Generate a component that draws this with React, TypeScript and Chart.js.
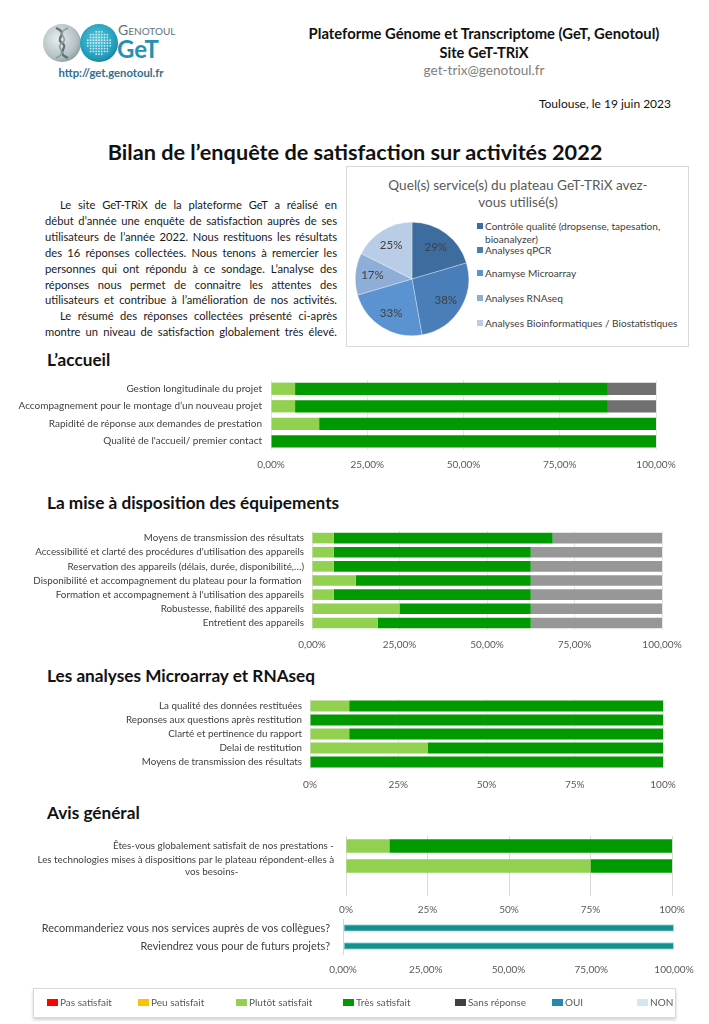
import React, { useEffect, useRef } from "react";
import { Chart, registerables } from "chart.js";

Chart.register(...registerables);

const FONT = 'Lato, "Open Sans", "Noto Sans", sans-serif';

// ---------- DATA ----------
const serviceLabels = [
  "Contrôle qualité (dropsense, tapesation, bioanalyzer)",
  "Analyses qPCR",
  "Anamyse Microarray",
  "Analyses RNAseq",
  "Analyses Bioinformatiques / Biostatistiques",
];
const serviceValues = [29, 38, 33, 17, 25];
const serviceColors = ["#3d6c9e", "#4a7eb8", "#5a93d0", "#8eaed8", "#bacde7"];

const accueilLabels = [
  "Gestion longitudinale du projet",
  "Accompagnement pour le montage d’un nouveau projet",
  "Rapidité de réponse aux demandes de prestation",
  "Qualité de l'accueil/ premier contact",
];
const accueilPlutot = [6.25, 6.25, 12.5, 0];
const accueilTres = [81.25, 81.25, 87.5, 100];
const accueilSans = [12.5, 12.5, 0, 0];

const equipLabels = [
  "Moyens de transmission des résultats",
  "Accessibilité et clarté des procédures d'utilisation des appareils",
  "Reservation des appareils (délais, durée, disponibilité,…)",
  "Disponibilité et accompagnement du plateau pour la formation ",
  "Formation et accompagnement à l'utilisation des appareils",
  "Robustesse, fiabilité des appareils",
  "Entretient des appareils",
];
const equipPlutot = [6.25, 6.25, 6.25, 12.5, 6.25, 25, 18.75];
const equipTres = [62.5, 56.25, 56.25, 50, 56.25, 37.5, 43.75];
const equipSans = [31.25, 37.5, 37.5, 37.5, 37.5, 37.5, 37.5];

const microLabels = [
  "La qualité des données restituées",
  "Reponses aux questions après restitution",
  "Clarté et pertinence du rapport",
  "Delai de restitution",
  "Moyens de transmission des résultats",
];
const microPlutot = [11.1, 0, 11.1, 33.3, 0];
const microTres = [88.9, 100, 88.9, 66.7, 100];

const avisLabels: (string | string[])[] = [
  "Êtes-vous globalement satisfait de nos prestations -",
  [
    "Les technologies mises à dispositions par le plateau répondent-elles à",
    "vos besoins-\u2003\u2003\u2003\u2003\u2003\u2003\u2003\u2003\u2003\u2003\u2003\u2003\u2003",
  ],
  "",
];
const avisPlutot = [13.3, 75, null];
const avisTres = [86.7, 25, null];

const ouiLabels = [
  "Recommanderiez vous nos services auprès de vos collègues?",
  "Reviendrez vous pour de futurs projets?",
];
const ouiValues = [100, 100];

const xTickValues = [0, 25, 50, 75, 100];

const legendLabels = [
  "Pas satisfait",
  "Peu satisfait",
  "Plutôt satisfait",
  "Très satisfait",
  "Sans réponse",
  "OUI",
  "NON",
];
const legendColors = ["#ff0000", "#ffc000", "#92d050", "#009900", "#404040", "#2389b0", "#cfe9ef"];

const C_PLUTOT = "#92d050";
const C_TRES = "#009a00";

const paragraphLines = [
  { t: "Le site GeT-TRiX de la plateforme GeT a réalisé en", indent: true },
  { t: "début d’année une enquête de satisfaction auprès de ses", indent: false },
  { t: "utilisateurs de l’année 2022. Nous restituons les résultats", indent: false },
  { t: "des 16 réponses collectées. Nous tenons à remercier les", indent: false },
  { t: "personnes qui ont répondu à ce sondage. L’analyse des", indent: false },
  { t: "réponses nous permet de connaitre les attentes des", indent: false },
  { t: "utilisateurs et contribue à l’amélioration de nos activités.", indent: false },
  { t: "Le résumé des réponses collectées présenté ci-après", indent: true },
  { t: "montre un niveau de satisfaction globalement très élevé.", indent: false },
];

// ---------- helpers ----------
function T(props: any) {
  const { x, y, w = 400, align = "left", size, weight = 400, color = "#000", children, style } = props;
  const lh = Math.round(size * 1.3);
  const left = align === "left" ? x : align === "center" ? x - w / 2 : x - w;
  return (
    <div
      style={{
        position: "absolute",
        left,
        top: y - lh / 2,
        width: w,
        fontSize: size,
        lineHeight: lh + "px",
        fontWeight: weight,
        color,
        textAlign: align,
        whiteSpace: "nowrap",
        ...style,
      }}
    >
      {children}
    </div>
  );
}

type DS = { label: string; data: (number | null)[]; color: string; border?: string };

function BarChart(props: {
  left: number;
  top: number;
  plotRight: number;
  axisWidth: number;
  padTop: number;
  band: number;
  axisHeight: number;
  labels: (string | string[])[];
  datasets: DS[];
  labelFont: number;
  labelPad: number;
  tickFont: number;
  tickPad: number;
  barPct: number;
  decimals: number;
  gridColor: string;
  zeroOnlyGrid?: boolean;
}) {
  const ref = useRef<HTMLCanvasElement>(null);
  const padRight = 28;
  const width = props.plotRight - props.left + padRight;
  const height = props.padTop + props.band * props.labels.length + props.axisHeight;
  useEffect(() => {
    if (!ref.current) return;
    const fmt = (v: number) =>
      props.decimals > 0 ? v.toFixed(props.decimals).replace(".", ",") + "%" : v + "%";
    const chart = new Chart(ref.current, {
      type: "bar",
      data: {
        labels: props.labels as any,
        datasets: props.datasets.map((d) => ({
          label: d.label,
          data: d.data as any,
          backgroundColor: d.color,
          borderColor: d.border || d.color,
          borderWidth: d.border ? 1 : 0,
          borderSkipped: false,
          barPercentage: props.barPct,
          categoryPercentage: 1,
        })),
      },
      options: {
        indexAxis: "y",
        animation: false,
        responsive: false,
        maintainAspectRatio: false,
        layout: { padding: { top: props.padTop, right: padRight, left: 0, bottom: 0 } },
        plugins: { legend: { display: false }, tooltip: { enabled: false }, title: { display: false } },
        scales: {
          x: {
            stacked: true,
            min: 0,
            max: 100,
            afterBuildTicks: (s: any) => {
              s.ticks = xTickValues.map((v) => ({ value: v }));
            },
            ticks: {
              callback: (v: any) => fmt(Number(v)),
              font: { family: FONT, size: props.tickFont },
              color: "#595959",
              padding: props.tickPad,
              maxRotation: 0,
              autoSkip: false,
            },
            grid: {
              color: (c: any) =>
                props.zeroOnlyGrid ? (c.tick && c.tick.value === 0 ? "#d9d9d9" : "rgba(0,0,0,0)") : props.gridColor,
              drawTicks: false,
            },
            border: { display: false },
            afterFit: (s: any) => {
              s.height = props.axisHeight;
              s.paddingLeft = 0;
              s.paddingRight = 0;
            },
          },
          y: {
            stacked: true,
            ticks: {
              font: { family: FONT, size: props.labelFont },
              color: "#404040",
              padding: props.labelPad,
              autoSkip: false,
            },
            grid: { display: false, drawTicks: false },
            border: { display: false },
            afterFit: (s: any) => {
              s.width = props.axisWidth - props.left;
              s.paddingTop = 0;
              s.paddingBottom = 0;
            },
          },
        },
      },
    });
    return () => chart.destroy();
  }, []);
  return (
    <canvas
      ref={ref}
      width={width}
      height={height}
      style={{ position: "absolute", left: props.left, top: props.top, width, height }}
    />
  );
}

const pieLabelPlugin = {
  id: "pieLabels",
  afterDatasetsDraw(chart: any) {
    const ctx = chart.ctx;
    const meta = chart.getDatasetMeta(0);
    meta.data.forEach((arc: any, i: number) => {
      const p = arc.getProps(["x", "y", "startAngle", "endAngle", "outerRadius"], true);
      const mid = (p.startAngle + p.endAngle) / 2;
      const r = p.outerRadius * 0.7;
      ctx.save();
      ctx.font = `11.5px ${FONT}`;
      ctx.fillStyle = "#404040";
      ctx.textAlign = "center";
      ctx.textBaseline = "middle";
      ctx.fillText(serviceValues[i] + "%", p.x + Math.cos(mid) * r, p.y + Math.sin(mid) * r);
      ctx.restore();
    });
  },
};

function PieChart() {
  const ref = useRef<HTMLCanvasElement>(null);
  useEffect(() => {
    if (!ref.current) return;
    const chart = new Chart(ref.current, {
      type: "pie",
      data: {
        labels: serviceLabels,
        datasets: [
          {
            data: serviceValues,
            backgroundColor: serviceColors,
            borderColor: "rgba(255,255,255,0.6)",
            borderWidth: 0.5,
          },
        ],
      },
      options: {
        animation: false,
        responsive: false,
        maintainAspectRatio: false,
        layout: { padding: 0 },
        plugins: { legend: { display: false }, tooltip: { enabled: false } },
      },
      plugins: [pieLabelPlugin],
    });
    return () => chart.destroy();
  }, []);
  return (
    <canvas
      ref={ref}
      width={114}
      height={114}
      style={{ position: "absolute", left: 355, top: 222, width: 114, height: 114 }}
    />
  );
}

function Logo() {
  const dots: React.ReactNode[] = [];
  for (let i = -4; i <= 4; i++) {
    for (let j = -4; j <= 4; j++) {
      const dx = i * 2.8;
      const dy = j * 2.8;
      if (dx * dx + dy * dy < 150) {
        dots.push(<circle key={i + "_" + j} cx={99 + dx} cy={43 + dy} r={0.9} fill="rgba(255,255,255,0.75)" />);
      }
    }
  }
  return (
    <svg width={200} height={80} style={{ position: "absolute", left: 0, top: 0 }}>
      <defs>
        <radialGradient id="gg" cx="0.4" cy="0.4" r="0.7">
          <stop offset="0" stopColor="#e8eeef" />
          <stop offset="0.7" stopColor="#b3c0c3" />
          <stop offset="1" stopColor="#7e9095" />
        </radialGradient>
        <radialGradient id="tg" cx="0.45" cy="0.4" r="0.7">
          <stop offset="0" stopColor="#5cc7dc" />
          <stop offset="0.7" stopColor="#1f9dbb" />
          <stop offset="1" stopColor="#136f88" />
        </radialGradient>
      </defs>
      <circle cx={62} cy={43} r={19} fill="url(#gg)" />
      <path d="M56,28 C70,34 54,38 62,43 C70,48 54,52 68,58" stroke="#5f7379" strokeWidth={2.4} fill="none" />
      <path d="M68,28 C54,34 70,38 62,43 C54,48 70,52 56,58" stroke="#8c9ca0" strokeWidth={1.6} fill="none" />
      <circle cx={99} cy={43} r={19} fill="url(#tg)" />
      {dots}
      <text x={118} y={35} fontSize={14} fill="#5d747c" fontFamily={FONT} style={{ fontVariant: "small-caps" }}>
        Genotoul
      </text>
      <text x={117} y={58} fontSize={24} fontWeight={700} fill="#2690b3" fontFamily={FONT}>
        GeT
      </text>
    </svg>
  );
}

export default function App() {
  const legendX = [47, 138, 236, 343, 455, 552, 637];
  const lineYs = [205, 221, 237, 253, 268.5, 284.5, 300, 316, 332];
  return (
    <div
      style={{
        position: "absolute",
        left: 0,
        top: 0,
        width: 709,
        height: 1024,
        background: "#fff",
        overflow: "hidden",
        fontFamily: FONT,
        color: "#000",
      }}
    >
      <Logo />
      <T x={111} y={72} w={160} align="center" size={11.3} weight={700} color="#2f6f8f">
        http://get.genotoul.fr
      </T>
      <T x={484} y={33} w={460} align="center" size={14.8} weight={700} color="#111">
        Plateforme Génome et Transcriptome (GeT, Genotoul)
      </T>
      <T x={484} y={52} w={300} align="center" size={14.6} weight={700} color="#111">
        Site GeT-TRiX
      </T>
      <T x={484} y={70} w={300} align="center" size={13.6} color="#808080">
        get-trix@genotoul.fr
      </T>
      <T x={671} y={104} w={250} align="right" size={12} color="#111">
        Toulouse, le 19 juin 2023
      </T>
      <T x={355} y={152} w={650} align="center" size={21.7} weight={700} color="#111">
        Bilan de l’enquête de satisfaction sur activités 2022
      </T>

      {paragraphLines.map((l, i) => (
        <div
          key={i}
          style={{
            position: "absolute",
            left: l.indent ? 60 : 45,
            top: lineYs[i] - 8,
            width: l.indent ? 277 : 292,
            fontSize: 11.2,
            lineHeight: "16px",
            textAlign: "justify",
            textAlignLast: "justify" as any,
            whiteSpace: "nowrap",
            color: "#1a1a1a",
          }}
        >
          {l.t}
        </div>
      ))}

      {/* Pie box */}
      <div
        style={{
          position: "absolute",
          left: 346,
          top: 166,
          width: 343,
          height: 181,
          border: "1px solid #d9d9d9",
          boxSizing: "border-box",
        }}
      />
      <T x={518} y={185} w={340} align="center" size={13.6} color="#595959">
        Quel(s) service(s) du plateau GeT-TRiX avez-
      </T>
      <T x={518} y={202} w={340} align="center" size={13.6} color="#595959">
        vous utilisé(s)
      </T>
      <PieChart />
      {[
        { y: 226, i: 0, lines: ["Contrôle qualité (dropsense, tapesation,", "bioanalyzer)"] },
        { y: 250, i: 1, lines: [serviceLabels[1]] },
        { y: 273, i: 2, lines: [serviceLabels[2]] },
        { y: 298, i: 3, lines: [serviceLabels[3]] },
        { y: 323, i: 4, lines: [serviceLabels[4]] },
      ].map((it) => (
        <React.Fragment key={it.i}>
          <div
            style={{
              position: "absolute",
              left: 477,
              top: it.y - 3,
              width: 6,
              height: 6,
              background: serviceColors[it.i],
            }}
          />
          {it.lines.map((ln, k) => (
            <T key={k} x={485} y={it.y + k * 13.5} w={200} size={10.1} color="#404040">
              {ln}
            </T>
          ))}
        </React.Fragment>
      ))}

      {/* Section headings */}
      <T x={47} y={360} size={17.2} weight={700} color="#111">
        L’accueil
      </T>
      <T x={47} y={503} size={17.2} weight={700} color="#111">
        La mise à disposition des équipements
      </T>
      <T x={47} y={676} size={17.2} weight={700} color="#111">
        Les analyses Microarray et RNAseq
      </T>
      <T x={47} y={813} size={17.2} weight={700} color="#111">
        Avis général
      </T>

      <BarChart
        left={0}
        top={375}
        plotRight={656}
        axisWidth={271}
        padTop={5}
        band={17.5}
        axisHeight={25}
        labels={accueilLabels}
        datasets={[
          { label: "Plutôt satisfait", data: accueilPlutot, color: C_PLUTOT },
          { label: "Très satisfait", data: accueilTres, color: C_TRES },
          { label: "Sans réponse", data: accueilSans, color: "#707070" },
        ]}
        labelFont={10}
        labelPad={9}
        tickFont={10}
        tickPad={9}
        barPct={0.7}
        decimals={2}
        gridColor="#e6e6e6"
      />

      <BarChart
        left={0}
        top={525}
        plotRight={662}
        axisWidth={312}
        padTop={6}
        band={14.15}
        axisHeight={25}
        labels={equipLabels}
        datasets={[
          { label: "Plutôt satisfait", data: equipPlutot, color: C_PLUTOT },
          { label: "Très satisfait", data: equipTres, color: C_TRES },
          { label: "Sans réponse", data: equipSans, color: "#979797" },
        ]}
        labelFont={9.8}
        labelPad={8}
        tickFont={10}
        tickPad={9}
        barPct={0.75}
        decimals={2}
        gridColor="#e6e6e6"
      />

      <BarChart
        left={0}
        top={693}
        plotRight={663}
        axisWidth={310}
        padTop={6}
        band={14}
        axisHeight={25}
        labels={microLabels}
        datasets={[
          { label: "Plutôt satisfait", data: microPlutot, color: C_PLUTOT },
          { label: "Très satisfait", data: microTres, color: C_TRES },
        ]}
        labelFont={9.8}
        labelPad={8}
        tickFont={10}
        tickPad={10}
        barPct={0.78}
        decimals={0}
        gridColor="#e6e6e6"
      />

      <BarChart
        left={0}
        top={830}
        plotRight={672}
        axisWidth={346}
        padTop={6}
        band={20}
        axisHeight={24}
        labels={avisLabels}
        datasets={[
          { label: "Plutôt satisfait", data: avisPlutot, color: C_PLUTOT },
          { label: "Très satisfait", data: avisTres, color: C_TRES },
        ]}
        labelFont={9.8}
        labelPad={12}
        tickFont={10}
        tickPad={8}
        barPct={0.68}
        decimals={0}
        gridColor="#d9d9d9"
      />

      <BarChart
        left={0}
        top={915}
        plotRight={674}
        axisWidth={343}
        padTop={4}
        band={18}
        axisHeight={25}
        labels={ouiLabels}
        datasets={[{ label: "OUI", data: ouiValues, color: "#149090", border: "#9fdcdc" }]}
        labelFont={10.9}
        labelPad={13}
        tickFont={10}
        tickPad={9}
        barPct={0.42}
        decimals={2}
        gridColor="#d9d9d9"
        zeroOnlyGrid={true}
      />

      {/* Shared legend */}
      <div
        style={{
          position: "absolute",
          left: 33,
          top: 988,
          width: 643,
          height: 30,
          border: "1px solid #d9d9d9",
          boxSizing: "border-box",
          boxShadow: "0 2px 3px rgba(0,0,0,0.18)",
          background: "#fff",
        }}
      />
      {legendLabels.map((l, i) => (
        <React.Fragment key={l}>
          <div
            style={{
              position: "absolute",
              left: legendX[i],
              top: 999,
              width: 11,
              height: 7,
              background: legendColors[i],
            }}
          />
          <T x={legendX[i] + 13} y={1002.5} w={100} size={10} color="#595959">
            {l}
          </T>
        </React.Fragment>
      ))}
    </div>
  );
}
